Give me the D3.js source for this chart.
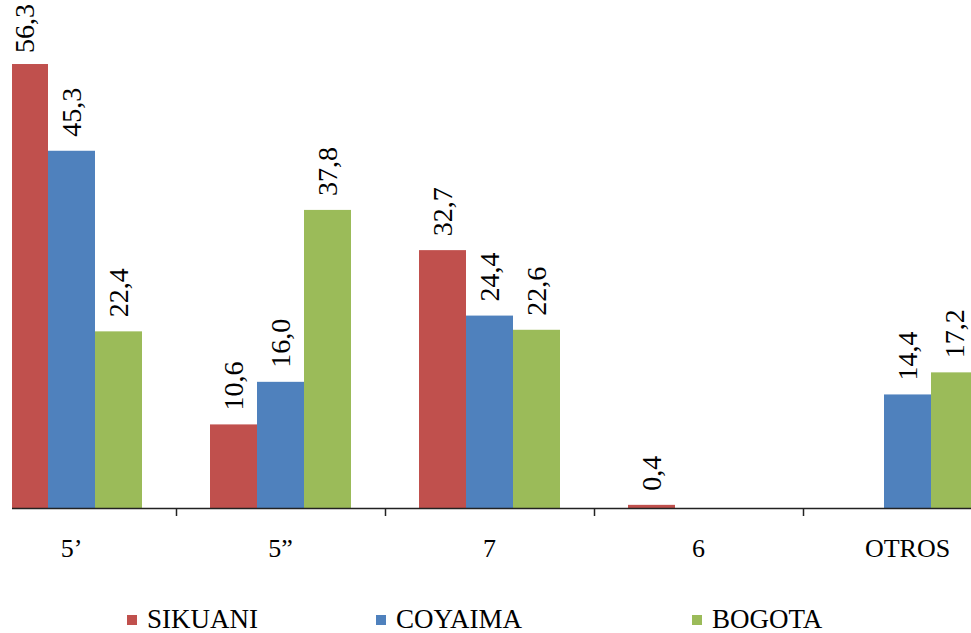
<!DOCTYPE html>
<html>
<head>
<meta charset="utf-8">
<script src="https://cdn.jsdelivr.net/npm/d3@7"></script>
<style>
  html, body { margin: 0; padding: 0; background: #ffffff; }
  svg { display: block; }
  text { font-family: "Liberation Serif", "Times New Roman", serif; fill: #000; }
</style>
</head>
<body>
<svg id="chart" width="971" height="633"></svg>
<script>
// Categories on the x axis
const categories = ["5\u2019", "5\u201D", "7", "6", "OTROS"];
// Series names
const seriesNames = ["SIKUANI", "COYAIMA", "BOGOTA"];
// Percentages per series (null = no bar)
const sikuani = [56.3, 10.6, 32.7, 0.4, null];
const coyaima = [45.3, 16.0, 24.4, null, 14.4];
const bogota  = [22.4, 37.8, 22.6, null, 17.2];
const seriesColors = ["#C0504D", "#4F81BD", "#9BBB59"];

const seriesValues = [sikuani, coyaima, bogota];
const W = 971, H = 633;
const svg = d3.select("#chart");
const serif = "'Liberation Serif', 'Times New Roman', serif";

const baseY = 508;
const plotLeft = 12;

// Category bands; the first band extends past the left edge of the plot
const x = d3.scaleBand().domain(categories).range([-33, 1012]).paddingInner(0).paddingOuter(0);
const xs = d3.scaleBand().domain(seriesNames).range([34, x.bandwidth() - 34]).padding(0);
const y = d3.scaleLinear().domain([0, 60]).range([baseY, baseY - 60 * 7.886]);

const locale = d3.formatLocale({ decimal: ",", thousands: ".", grouping: [3], currency: ["", ""] });
const fmt = locale.format(".1f");

svg.append("defs").append("clipPath").attr("id", "plotClip")
  .append("rect").attr("x", plotLeft).attr("y", 0).attr("width", W - plotLeft).attr("height", baseY);

// Flatten into drawable bar records
const bars = [];
categories.forEach((c, ci) => {
  seriesNames.forEach((s, si) => {
    const v = seriesValues[si][ci];
    if (v != null) bars.push({ cat: c, series: s, si, value: v });
  });
});

// Bars
svg.append("g").attr("clip-path", "url(#plotClip)")
  .selectAll("rect").data(bars).join("rect")
  .attr("x", d => x(d.cat) + xs(d.series))
  .attr("width", xs.bandwidth())
  .attr("y", d => y(d.value))
  .attr("height", d => baseY - y(d.value))
  .attr("fill", d => seriesColors[d.si]);

// Rotated value labels above the bars, kept inside the top of the chart
const labels = svg.append("g").selectAll("text").data(bars).join("text")
  .attr("font-family", serif)
  .attr("font-size", 28)
  .attr("text-anchor", "start")
  .attr("dy", "0.34em")
  .text(d => fmt(d.value));
labels.each(function (d) {
  const len = this.getComputedTextLength();
  const cx = x(d.cat) + xs(d.series) + xs.bandwidth() / 2;
  let sy = y(d.value) - 14;
  if (sy - len < 4) sy = len + 4;
  d3.select(this).attr("transform", `translate(${cx},${sy}) rotate(-90)`);
});

// X axis line
const axisG = svg.append("g");
axisG.append("line")
  .attr("x1", plotLeft).attr("x2", W)
  .attr("y1", baseY + 0.5).attr("y2", baseY + 0.5)
  .attr("stroke", "#222").attr("stroke-width", 1.5);

// Tick marks between categories
axisG.selectAll("line.tick").data(categories.slice(1)).join("line")
  .attr("class", "tick")
  .attr("x1", d => Math.round(x(d)) + 0.5).attr("x2", d => Math.round(x(d)) + 0.5)
  .attr("y1", baseY).attr("y2", baseY + 8)
  .attr("stroke", "#222").attr("stroke-width", 1.5);

// Category labels
axisG.selectAll("text").data(categories).join("text")
  .attr("font-family", serif)
  .attr("x", d => x(d) + x.bandwidth() / 2)
  .attr("y", 557)
  .attr("text-anchor", "middle")
  .attr("font-size", 26)
  .text(d => d);

// Legend
const legendX = [127, 376, 692];
const legend = svg.append("g").selectAll("g").data(seriesNames).join("g")
  .attr("transform", (d, i) => `translate(${legendX[i]},0)`);
legend.append("rect")
  .attr("x", 0).attr("y", 615).attr("width", 10).attr("height", 10)
  .attr("fill", (d, i) => seriesColors[i]);
legend.append("text")
  .attr("font-family", serif)
  .attr("x", 20).attr("y", 628)
  .attr("font-size", 27)
  .text(d => d);
</script>
</body>
</html>
